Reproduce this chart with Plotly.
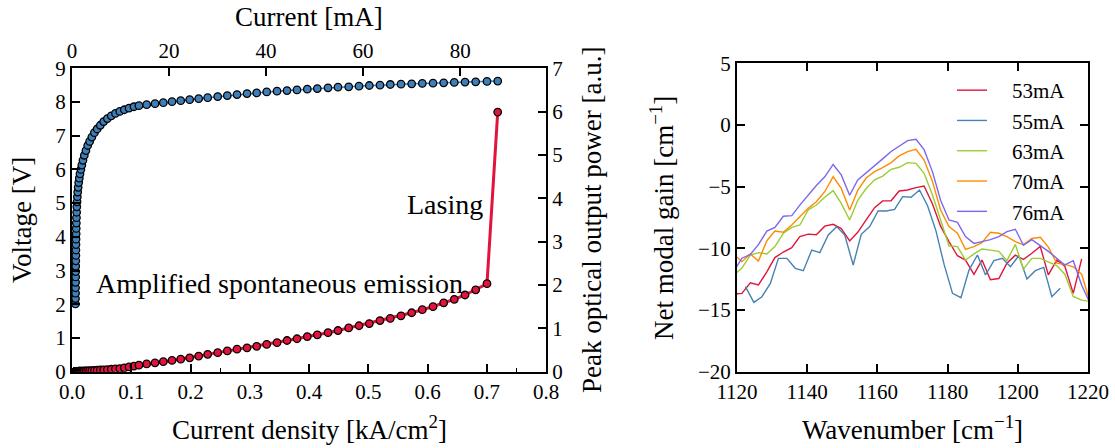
import plotly.graph_objects as go

# ---------------- LIV measurement (left panel) ----------------
current_density = [
    0.0058, 0.0059, 0.0060, 0.0060, 0.0061, 0.0062, 0.0062, 0.0063, 0.0064, 0.0065,
    0.0066, 0.0067, 0.0068, 0.0070, 0.0071, 0.0073, 0.0075, 0.0078, 0.0081, 0.0085,
    0.0090, 0.0096, 0.0104, 0.0113, 0.0123, 0.0135, 0.0150, 0.0166, 0.0185, 0.0208,
    0.0235, 0.0265, 0.0298, 0.0335, 0.0378, 0.0425, 0.0478, 0.0535, 0.0597, 0.0663,
    0.0733, 0.0806, 0.0883, 0.0963, 0.1045, 0.1130, 0.1260, 0.1401, 0.1541, 0.1688,
    0.1835, 0.1986, 0.2138, 0.2290, 0.2459, 0.2621, 0.2785, 0.2954, 0.3117, 0.3286,
    0.3460, 0.3629, 0.3797, 0.3971, 0.4140, 0.4321, 0.4489, 0.4670, 0.4844, 0.5018,
    0.5198, 0.5372, 0.5553, 0.5733, 0.5912, 0.6093, 0.6273, 0.6452, 0.6633, 0.6813,
    0.7004, 0.7185,
]
voltage = [
    2.01, 2.17, 2.33, 2.49, 2.65, 2.81, 2.97, 3.13, 3.29, 3.45,
    3.61, 3.77, 3.93, 4.09, 4.25, 4.41, 4.57, 4.73, 4.89, 5.04,
    5.19, 5.33, 5.47, 5.61, 5.74, 5.87, 6.00, 6.13, 6.27, 6.42,
    6.56, 6.71, 6.83, 6.96, 7.09, 7.20, 7.31, 7.42, 7.51, 7.59,
    7.66, 7.72, 7.77, 7.82, 7.86, 7.89, 7.92, 7.95, 7.98, 8.01,
    8.04, 8.07, 8.10, 8.13, 8.16, 8.19, 8.22, 8.25, 8.27, 8.30,
    8.32, 8.34, 8.36, 8.38, 8.40, 8.42, 8.44, 8.45, 8.47, 8.49,
    8.50, 8.52, 8.53, 8.54, 8.55, 8.56, 8.57, 8.58, 8.59, 8.60,
    8.61, 8.62,
]
optical_power = [
    0.004, 0.004, 0.004, 0.004, 0.005, 0.005, 0.005, 0.005, 0.005, 0.005,
    0.005, 0.006, 0.006, 0.006, 0.006, 0.006, 0.007, 0.007, 0.007, 0.008,
    0.008, 0.009, 0.009, 0.010, 0.011, 0.012, 0.013, 0.014, 0.015, 0.017,
    0.019, 0.021, 0.024, 0.027, 0.030, 0.034, 0.039, 0.044, 0.050, 0.056,
    0.064, 0.072, 0.090, 0.110, 0.130, 0.150, 0.180, 0.205, 0.232, 0.260,
    0.290, 0.320, 0.360, 0.400, 0.440, 0.480, 0.520, 0.550, 0.585, 0.630,
    0.670, 0.720, 0.760, 0.810, 0.850, 0.900, 0.950, 1.010, 1.060, 1.110,
    1.180, 1.230, 1.290, 1.360, 1.430, 1.500, 1.590, 1.670, 1.770, 1.890,
    2.030, 5.990,
]
current_ma_max = 97.7  # top axis span, matching 0.8 kA/cm^2

# ---------------- Net modal gain spectra (right panel) ----------------
wavenumber = [
    1119.0, 1121.4, 1123.8, 1126.1, 1128.5, 1130.8, 1133.2, 1135.6, 1137.9, 1140.3,
    1142.6, 1145.0, 1147.4, 1149.7, 1152.1, 1154.4, 1156.8, 1159.2, 1161.5, 1163.9,
    1166.2, 1168.6, 1171.0, 1173.3, 1175.7, 1178.0, 1180.4, 1182.8, 1185.1, 1187.5,
    1189.8, 1192.2, 1194.6, 1196.9, 1199.3, 1201.6, 1204.0, 1206.4, 1208.7, 1211.1,
    1213.4, 1215.8, 1218.2, 1220.5,
]
wavenumber_55 = [
    1122.4, 1124.8, 1127.1, 1129.5, 1131.8, 1134.2, 1136.6, 1138.9, 1141.3, 1143.6,
    1146.0, 1148.4, 1150.7, 1153.1, 1155.4, 1157.8, 1160.2, 1162.5, 1164.9, 1167.2,
    1169.6, 1172.0, 1174.3, 1176.7, 1179.0, 1181.4, 1183.8, 1186.1, 1188.5, 1190.8,
    1193.2, 1195.6, 1197.9, 1200.3, 1202.6, 1205.0, 1207.4, 1209.7, 1212.1,
]
gain_53 = [
    -13.7, -13.65, -12.8, -12.97, -11.9, -10.75, -10.3, -9.95, -9.05, -8.85,
    -8.9, -8.2, -8.05, -8.4, -9.4, -8.7, -7.7, -6.7, -6.15, -6.14,
    -5.35, -5.27, -5.08, -4.95, -6.4, -8.2, -9.45, -10.6, -10.95, -12.1,
    -10.95, -12.55, -12.45, -11.2, -10.55, -10.9, -10.4, -9.85, -12.15, -10.95,
    -11.45, -13.65, -10.85,
]
gain_55 = [
    -13.1, -14.38, -13.92, -12.84, -10.81, -10.81, -11.62, -11.81, -10.14, -10.35,
    -8.92, -8.24, -8.92, -11.35, -8.86, -8.24, -6.97, -6.97, -6.84, -5.81,
    -5.86, -5.27, -6.55, -8.6, -11.3, -13.65, -14.0, -11.76, -10.54, -12.16,
    -11.0, -10.81, -11.49, -10.59, -12.49, -11.81, -11.54, -13.92, -13.24,
]
gain_63 = [
    -12.2, -11.6, -10.54, -10.35, -10.46, -9.86, -8.78, -8.30, -8.11, -6.89,
    -6.49, -5.86, -5.32, -6.35, -7.7, -6.1, -5.15, -4.45, -4.14, -3.59,
    -3.43, -3.05, -3.11, -3.92, -5.68, -7.70, -9.81, -9.86, -10.95, -10.45,
    -10.05, -10.14, -10.24, -11.0, -9.68, -11.68, -10.81, -10.81, -11.08, -11.4,
    -12.1, -13.9, -14.2, -14.3,
]
gain_70 = [
    -10.45, -11.08, -10.46, -11.03, -9.38, -8.59, -8.70, -8.11, -7.43, -6.76,
    -6.22, -5.41, -4.19, -5.14, -6.89, -5.3, -4.3, -3.78, -3.46, -3.05,
    -2.51, -2.16, -1.97, -2.84, -4.59, -6.89, -8.24, -8.78, -10.08, -9.86,
    -9.54, -8.70, -8.78, -9.05, -9.46, -9.7, -9.2, -9.1, -9.9, -11.2,
    -11.3, -11.5, -12.1, -14.3,
]
gain_76 = [
    -11.9, -10.8, -10.5, -9.7, -8.6, -8.3, -7.4, -7.35, -6.5, -5.7,
    -4.9, -4.2, -3.2, -4.05, -5.7, -4.45, -3.9, -3.35, -2.75, -2.15,
    -1.75, -1.27, -1.16, -2.0, -3.8, -6.1, -7.7, -7.9, -9.05, -9.6,
    -9.45, -9.3, -9.05, -8.65, -8.45, -9.75, -9.3, -9.75, -10.25, -10.8,
    -11.35, -11.0, -13.0, -14.4,
]
spectra = [
    ("53mA", wavenumber, gain_53, "#e0143c"),
    ("55mA", wavenumber_55, gain_55, "#4682b4"),
    ("63mA", wavenumber, gain_63, "#9acd32"),
    ("70mA", wavenumber, gain_70, "#ff8c00"),
    ("76mA", wavenumber, gain_76, "#7b68ee"),
]

FONT = "Times New Roman, Liberation Serif, DejaVu Serif, serif"
W, H = 1115, 448
BLUE = "#3f7fb8"
RED = "#e0143c"

fig = go.Figure()

fig.add_trace(go.Scatter(
    x=current_density, y=voltage, xaxis="x", yaxis="y", mode="lines+markers",
    line=dict(color=BLUE, width=1.5),
    marker=dict(size=7.5, color=BLUE, line=dict(color="black", width=1.3)),
    showlegend=False, hoverinfo="skip",
))
fig.add_trace(go.Scatter(
    x=current_density, y=optical_power, xaxis="x", yaxis="y2", mode="lines+markers",
    line=dict(color=RED, width=3),
    marker=dict(size=7.5, color=RED, line=dict(color="black", width=1.3)),
    showlegend=False, hoverinfo="skip",
))
# empty trace so the top (current) axis is created
fig.add_trace(go.Scatter(x=[None], y=[None], xaxis="x3", yaxis="y",
                         showlegend=False, hoverinfo="skip"))

# non-breaking spaces widen the gap between legend line and label
GAP = "\u00a0\u00a0\u00a0\u2009"
for name, wn, g, col in spectra:
    fig.add_trace(go.Scatter(
        x=wn, y=g, xaxis="x2", yaxis="y3", mode="lines", name=GAP + name,
        line=dict(color=col, width=1.4), hoverinfo="skip",
    ))

tickfont = dict(family=FONT, size=21, color="black")
axis_style = dict(
    showline=True, linecolor="black", linewidth=2,
    ticks="inside", ticklen=8, tickwidth=1.5, tickcolor="black",
    showgrid=False, zeroline=False, tickfont=tickfont,
)

left_dom = [72 / W, 546 / W]
right_dom = [737 / W, 1088 / W]
bottom = 1 - 371.7 / H

fig.update_layout(
    width=W, height=H,
    margin=dict(l=0, r=0, t=0, b=0, autoexpand=False),
    paper_bgcolor="white", plot_bgcolor="white",
    font=dict(family=FONT, color="black"),
    xaxis=dict(domain=left_dom, anchor="y", range=[0, 0.8],
               tickvals=[0, 0.1, 0.2, 0.3, 0.4, 0.5, 0.6, 0.7, 0.8], tickformat=".1f",
               minor=dict(tickvals=[0.25, 0.75], ticks="inside", ticklen=4,
                          tickwidth=1.2, tickcolor="black"),
               **axis_style),
    yaxis=dict(domain=[bottom, 1 - 68.3 / H], anchor="x", range=[0, 9], dtick=1,
               **axis_style),
    yaxis2=dict(overlaying="y", side="right", anchor="x", range=[0, 7], dtick=1,
                **axis_style),
    xaxis3=dict(overlaying="x", side="top", anchor="y", range=[0, current_ma_max],
                dtick=20, **axis_style),
    xaxis2=dict(domain=right_dom, anchor="y3", range=[1120, 1220], dtick=20,
                mirror="ticks", **axis_style),
    yaxis3=dict(domain=[bottom, 1 - 63.3 / H], anchor="x2", range=[-20, 5], dtick=5,
                mirror="ticks", **axis_style),
    legend=dict(x=952 / W, y=1 - 70 / H, xanchor="left", yanchor="top",
                bgcolor="rgba(0,0,0,0)", borderwidth=0,
                font=dict(family=FONT, size=21, color="black"), tracegroupgap=0),
)

title_font = dict(family=FONT, size=27, color="black")


def label(text, px, py, angle=0):
    fig.add_annotation(text=text, x=px / W, y=1 - py / H, xref="paper", yref="paper",
                       showarrow=False, textangle=angle, font=title_font,
                       xanchor="center", yanchor="middle")


label("Current [mA]", 309, 17)
label("Current density [kA/cm<sup>2</sup>]", 309, 428)
label("Voltage [V]", 22, 220, -90)
label("Peak optical output power [a.u.]", 592, 220, -90)
label("Net modal gain [cm<sup>\u22121</sup>]", 662, 218, -90)
label("Wavenumber [cm<sup>\u22121</sup>]", 912, 428)

fig.add_annotation(text="Amplified spontaneous emission", x=0.350, y=2.62,
                   xref="x", yref="y", showarrow=False,
                   font=dict(family=FONT, size=28, color="black"))
fig.add_annotation(text="Lasing", x=0.630, y=4.95, xref="x", yref="y",
                   showarrow=False, font=dict(family=FONT, size=28, color="black"))

fig.write_html("out.html")
